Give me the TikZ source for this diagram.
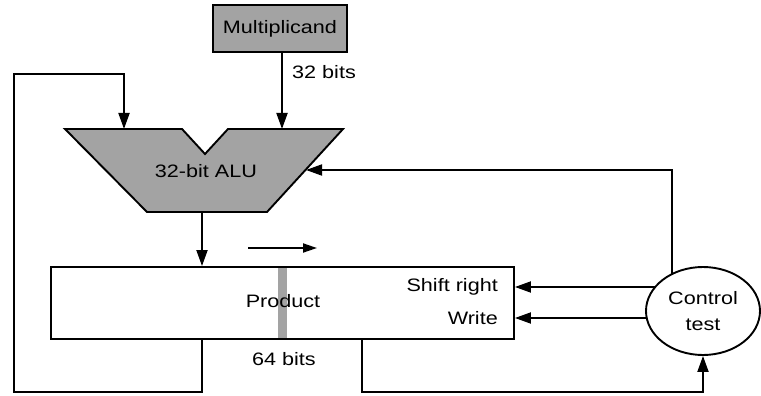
\documentclass[tikz,border=0pt]{standalone}
\usepackage{fontspec}
\setmainfont[FakeStretch=1.2]{Liberation Sans}
\usetikzlibrary{arrows.meta,shapes.geometric,backgrounds}
\definecolor{halftone}{gray}{0.64}
\begin{document}
\begin{tikzpicture}[x=1pt,y=-1pt,
  wire/.style={line width=1.9pt, line join=miter},
  arr/.style={wire,-{Triangle[length=16pt,width=11pt]}},
  smallarr/.style={wire,-{Triangle[length=14pt,width=9pt]}},
  lbl/.style={font=\fontsize{18}{21}\selectfont, inner sep=0pt}]
\useasboundingbox (0,0) rectangle (761,396);

% Multiplicand register
\node[draw, wire, fill=halftone, minimum width=134pt, minimum height=47pt, lbl] (mcand) at (280,28.5) {Multiplicand};
\node[lbl, anchor=west] (bits32) at (292,72) {32 bits};

% ALU
\coordinate (aluL) at (124,129);
\coordinate (aluM) at (282,129);
\coordinate (aluR) at (306,170);
\coordinate (aluOut) at (202,212);
\filldraw[wire, fill=halftone] (65,129) -- (182,129) -- (205,154) -- (228,129) -- (343,129) -- (267,212) -- (147,212) -- cycle;
\node[lbl] (alulbl) at (206,171) {32-bit ALU};

% Product register
\node[draw, wire, minimum width=463pt, minimum height=72pt, inner sep=0pt] (prod) at (282.5,303) {};
\fill[halftone] (278,268) rectangle (287,338);
\node[lbl] (prodlbl) at (283,301) {Product};
\node[lbl, anchor=east] (shift) at (498,287) {Shift right};
\node[lbl, anchor=east] (write) at (498,318) {Write};
\node[lbl] (bits64) at (284,359) {64 bits};

% shift direction arrow
\coordinate (sa) at (248,248);
\coordinate (sb) at (317,248);
\draw[smallarr] (sa) -- (sb);

% Control
\node[draw, wire, ellipse, fill=white, minimum width=114pt, minimum height=88pt, inner sep=0pt, align=center, font=\fontsize{18}{26}\selectfont] (ctrl) at (703,311) {Control\\test};

% connectors
\draw[arr] (mcand.south -| aluM) -- (aluM);
\draw[arr] (aluOut) -- (aluOut |- prod.north);
\coordinate (lb) at (14,392);
\coordinate (lt) at (14,74);
\draw[arr] (prod.south -| aluOut) |- (lb) -- (lt) -| (aluL);
\coordinate (rb) at (362,392);
\draw[arr] (prod.south -| rb) -- (rb) -| (ctrl.south);

\coordinate (cup) at (672,170);
\begin{scope}[on background layer]
\draw[arr] (cup |- ctrl.center) -- (cup) -- (aluR);
\draw[arr] (ctrl.center |- shift) -- (prod.east |- shift);
\draw[arr] (ctrl.center |- write) -- (prod.east |- write);
\end{scope}
\end{tikzpicture}
\end{document}
